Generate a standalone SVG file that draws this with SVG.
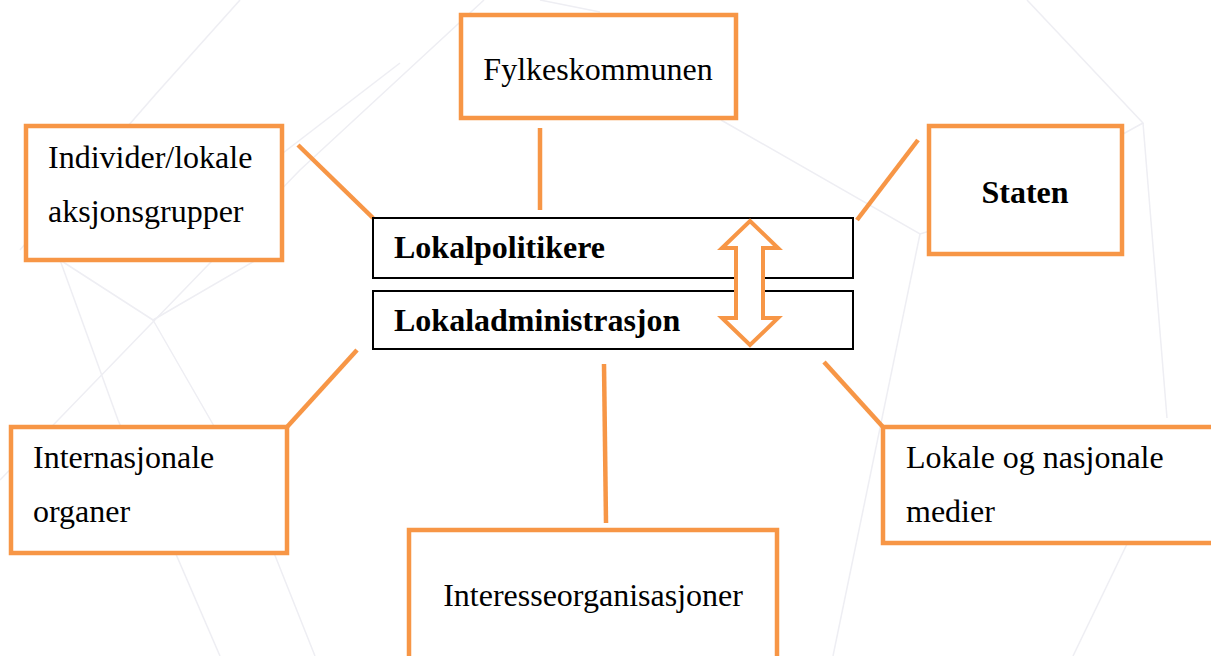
<svg xmlns="http://www.w3.org/2000/svg" width="1211" height="656" viewBox="0 0 1211 656">
<style>
.bg{stroke:#eeeef3;stroke-width:1.5;fill:none}
.ob{fill:#fff;stroke:#f79646;stroke-width:4.5}
.cb{fill:#fff;stroke:#000;stroke-width:2}
.con{stroke:#f79646;stroke-width:4.5;fill:none}
.t{font-family:"Liberation Serif","Times New Roman",serif;font-size:32px;fill:#000}
.b{font-weight:bold}
</style>
<rect width="1211" height="656" fill="#fff"/>
<g id="background">
<path class="bg" d="M484 0 L300 170 L0 480"/>
<path class="bg" d="M240 0 L155 95 L20 250"/>
<path class="bg" d="M283 153 L400 63"/>
<path class="bg" d="M60 260 L153 320 L265 255"/>
<path class="bg" d="M153 320 L245 480 L315 656"/>
<path class="bg" d="M60 260 L118 420 L220 656"/>
<path class="bg" d="M540 0 L600 12"/>
<path class="bg" d="M721 120 L920 234 L933 230"/>
<path class="bg" d="M920 234 L833 656"/>
<path class="bg" d="M1027 0 L1143 123 L1123 134"/>
<path class="bg" d="M1143 123 L1167 418"/>
<path class="bg" d="M1127 544 L1073 656"/>
</g>
<g id="connectors">
<line class="con" x1="540" y1="128" x2="540" y2="210"/>
<line class="con" x1="298" y1="145" x2="373" y2="218"/>
<line class="con" x1="918" y1="140" x2="857" y2="220"/>
<line class="con" x1="357" y1="350" x2="287" y2="427"/>
<line class="con" x1="604" y1="364" x2="606" y2="523"/>
<line class="con" x1="824" y1="362" x2="883" y2="427"/>
</g>
<g id="fylkeskommunen">
<rect class="ob" x="461" y="15" width="275" height="103"/>
<text class="t" x="598" y="80" text-anchor="middle">Fylkeskommunen</text>
</g>
<g id="individer">
<rect class="ob" x="26" y="126" width="256" height="134"/>
<text class="t" x="48" y="168">Individer/lokale</text>
<text class="t" x="48" y="222">aksjonsgrupper</text>
</g>
<g id="staten">
<rect class="ob" x="929" y="126" width="193" height="128"/>
<text class="t b" x="1025" y="203" text-anchor="middle">Staten</text>
</g>
<g id="lokalpolitikere">
<rect class="cb" x="373" y="218" width="480" height="60"/>
<text class="t b" x="394" y="258">Lokalpolitikere</text>
</g>
<g id="lokaladministrasjon">
<rect class="cb" x="373" y="291" width="480" height="58"/>
<text class="t b" x="394" y="331">Lokaladministrasjon</text>
</g>
<g id="dobbeltpil">
<path fill="#fff" stroke="#f79646" stroke-width="4" d="M750 221 L778 248 L763 248 L763 318 L778 318 L750 345 L722 318 L736 318 L736 248 L722 248 Z"/>
</g>
<g id="internasjonale">
<rect class="ob" x="11" y="427" width="276" height="126"/>
<text class="t" x="33" y="468">Internasjonale</text>
<text class="t" x="33" y="522">organer</text>
</g>
<g id="interesseorganisasjoner">
<rect class="ob" x="409" y="530" width="368" height="140"/>
<text class="t" x="593" y="606" text-anchor="middle">Interesseorganisasjoner</text>
</g>
<g id="medier">
<rect class="ob" x="883" y="427" width="340" height="116"/>
<text class="t" x="906" y="468">Lokale og nasjonale</text>
<text class="t" x="906" y="522">medier</text>
</g>
</svg>
